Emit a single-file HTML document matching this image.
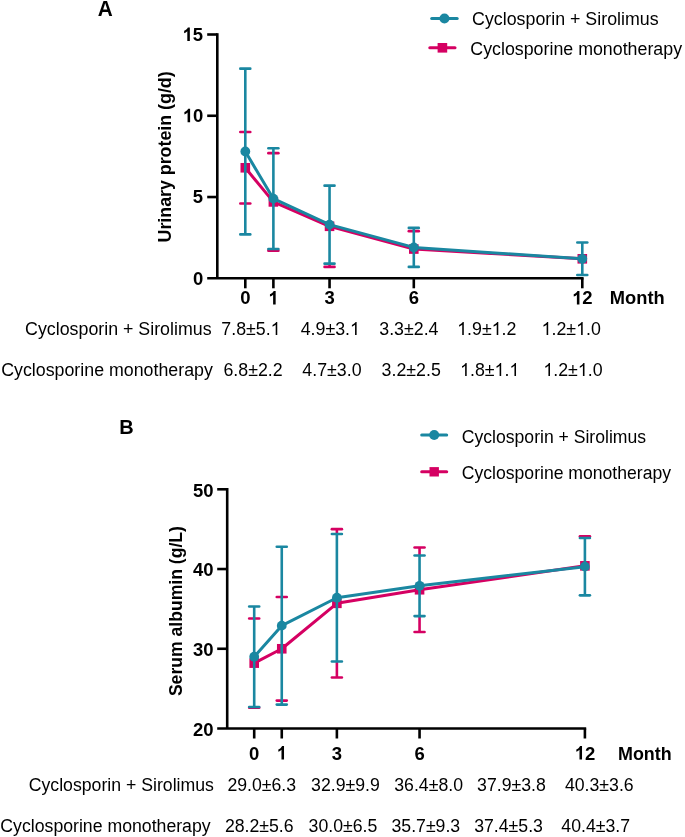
<!DOCTYPE html>
<html><head><meta charset="utf-8"><style>
html,body{margin:0;padding:0;background:#fff;}
svg{display:block;font-family:"Liberation Sans", sans-serif;will-change:transform;}
</style></head><body>
<svg width="685" height="837" viewBox="0 0 685 837">
<rect width="685" height="837" fill="#fff"/>
<line x1="217.30" y1="33.20" x2="217.30" y2="278.30" stroke="#000" stroke-width="2.60" stroke-linecap="butt"/>
<line x1="207.20" y1="278.30" x2="583.60" y2="278.30" stroke="#000" stroke-width="2.60" stroke-linecap="butt"/>
<text id="t0" x="192.97" y="284.78" font-size="18.50" font-weight="bold" fill="#000" transform="translate(0 284.775) scale(1 1.0100) translate(0 -284.775)">0</text>
<line x1="207.20" y1="197.03" x2="217.30" y2="197.03" stroke="#000" stroke-width="2.60" stroke-linecap="butt"/>
<text id="t1" x="192.69" y="203.51" font-size="18.50" font-weight="bold" fill="#000" transform="translate(0 203.508) scale(1 1.0100) translate(0 -203.508)">5</text>
<line x1="207.20" y1="115.77" x2="217.30" y2="115.77" stroke="#000" stroke-width="2.60" stroke-linecap="butt"/>
<text id="t2" x="182.70" y="122.24" font-size="18.50" font-weight="bold" fill="#000" transform="translate(0 122.242) scale(1 1.0100) translate(0 -122.242)"> 0</text>
<path d="M 821 0 L 540 0 L 540 1059 Q 386 915 190 846 L 190 1101 Q 300 1137 429 1238 Q 558 1339 606 1466 L 821 1466 Z" transform="translate(182.700 122.242) scale(0.00903 -0.00921)" fill="#000"/>
<line x1="207.20" y1="34.50" x2="217.30" y2="34.50" stroke="#000" stroke-width="2.60" stroke-linecap="butt"/>
<text id="t3" x="182.43" y="40.98" font-size="18.50" font-weight="bold" fill="#000" transform="translate(0 40.975) scale(1 1.0100) translate(0 -40.975)"> 5</text>
<path d="M 821 0 L 540 0 L 540 1059 Q 386 915 190 846 L 190 1101 Q 300 1137 429 1238 Q 558 1339 606 1466 L 821 1466 Z" transform="translate(182.430 40.975) scale(0.00903 -0.00921)" fill="#000"/>
<line x1="245.30" y1="278.30" x2="245.30" y2="288.30" stroke="#000" stroke-width="2.60" stroke-linecap="butt"/>
<text id="t4" x="240.16" y="304.40" font-size="18.50" font-weight="bold" fill="#000" transform="translate(0 304.400) scale(1 1.0100) translate(0 -304.400)">0</text>
<line x1="273.38" y1="278.30" x2="273.38" y2="288.30" stroke="#000" stroke-width="2.60" stroke-linecap="butt"/>
<text id="t5" x="268.24" y="304.40" font-size="18.50" font-weight="bold" fill="#000" transform="translate(0 304.400) scale(1 1.0100) translate(0 -304.400)"> </text>
<path d="M 821 0 L 540 0 L 540 1059 Q 386 915 190 846 L 190 1101 Q 300 1137 429 1238 Q 558 1339 606 1466 L 821 1466 Z" transform="translate(268.240 304.400) scale(0.00903 -0.00921)" fill="#000"/>
<line x1="329.55" y1="278.30" x2="329.55" y2="288.30" stroke="#000" stroke-width="2.60" stroke-linecap="butt"/>
<text id="t6" x="324.41" y="304.40" font-size="18.50" font-weight="bold" fill="#000" transform="translate(0 304.400) scale(1 1.0100) translate(0 -304.400)">3</text>
<line x1="413.80" y1="278.30" x2="413.80" y2="288.30" stroke="#000" stroke-width="2.60" stroke-linecap="butt"/>
<text id="t7" x="408.66" y="304.40" font-size="18.50" font-weight="bold" fill="#000" transform="translate(0 304.400) scale(1 1.0100) translate(0 -304.400)">6</text>
<line x1="582.30" y1="278.30" x2="582.30" y2="288.30" stroke="#000" stroke-width="2.60" stroke-linecap="butt"/>
<text id="t8" x="572.01" y="304.40" font-size="18.50" font-weight="bold" fill="#000" transform="translate(0 304.400) scale(1 1.0100) translate(0 -304.400)"> 2</text>
<path d="M 821 0 L 540 0 L 540 1059 Q 386 915 190 846 L 190 1101 Q 300 1137 429 1238 Q 558 1339 606 1466 L 821 1466 Z" transform="translate(572.010 304.400) scale(0.00903 -0.00921)" fill="#000"/>
<text id="t9" x="609.81" y="304.40" font-size="18.30" font-weight="bold" fill="#000" transform="translate(0 304.400) scale(1 1.0500) translate(0 -304.400)">Month</text>
<text id="t10" x="-85.66" y="0.00" font-size="17.80" font-weight="bold" fill="#000" transform="translate(171.30 156.80) rotate(-90) scale(1 1.0500)">Urinary protein (g/d)</text>
<text id="t11" x="97.68" y="15.60" font-size="20.80" font-weight="bold" fill="#000" transform="translate(0 15.600) scale(1 1.0500) translate(0 -15.600)">A</text>
<polyline points="245.30,167.78 273.38,201.91 329.55,226.29 413.80,249.04 582.30,258.80" fill="none" stroke="#d50062" stroke-width="3.00" stroke-linejoin="round"/>
<line x1="240.30" y1="132.02" x2="250.30" y2="132.02" stroke="#d50062" stroke-width="2.60" stroke-linecap="round"/>
<line x1="240.30" y1="203.53" x2="250.30" y2="203.53" stroke="#d50062" stroke-width="2.60" stroke-linecap="round"/>
<line x1="273.38" y1="248.54" x2="273.38" y2="250.67" stroke="#d50062" stroke-width="2.60" stroke-linecap="butt"/>
<line x1="268.38" y1="153.15" x2="278.38" y2="153.15" stroke="#d50062" stroke-width="2.60" stroke-linecap="round"/>
<line x1="268.38" y1="250.67" x2="278.38" y2="250.67" stroke="#d50062" stroke-width="2.60" stroke-linecap="round"/>
<line x1="329.55" y1="263.17" x2="329.55" y2="266.92" stroke="#d50062" stroke-width="2.60" stroke-linecap="butt"/>
<line x1="324.55" y1="266.92" x2="334.55" y2="266.92" stroke="#d50062" stroke-width="2.60" stroke-linecap="round"/>
<line x1="408.80" y1="231.17" x2="418.80" y2="231.17" stroke="#d50062" stroke-width="2.60" stroke-linecap="round"/>
<rect x="240.50" y="162.98" width="9.60" height="9.60" fill="#d50062"/>
<rect x="268.58" y="197.11" width="9.60" height="9.60" fill="#d50062"/>
<rect x="324.75" y="221.49" width="9.60" height="9.60" fill="#d50062"/>
<rect x="409.00" y="244.24" width="9.60" height="9.60" fill="#d50062"/>
<rect x="577.50" y="254.00" width="9.60" height="9.60" fill="#d50062"/>
<polyline points="245.30,151.52 273.38,198.66 329.55,224.66 413.80,247.42 582.30,258.80" fill="none" stroke="#1a87a1" stroke-width="3.00" stroke-linejoin="round"/>
<line x1="245.30" y1="68.63" x2="245.30" y2="234.42" stroke="#1a87a1" stroke-width="2.60" stroke-linecap="butt"/>
<line x1="240.30" y1="68.63" x2="250.30" y2="68.63" stroke="#1a87a1" stroke-width="2.60" stroke-linecap="round"/>
<line x1="240.30" y1="234.42" x2="250.30" y2="234.42" stroke="#1a87a1" stroke-width="2.60" stroke-linecap="round"/>
<line x1="273.38" y1="148.27" x2="273.38" y2="249.04" stroke="#1a87a1" stroke-width="2.60" stroke-linecap="butt"/>
<line x1="268.38" y1="148.27" x2="278.38" y2="148.27" stroke="#1a87a1" stroke-width="2.60" stroke-linecap="round"/>
<line x1="268.38" y1="249.04" x2="278.38" y2="249.04" stroke="#1a87a1" stroke-width="2.60" stroke-linecap="round"/>
<line x1="329.55" y1="185.66" x2="329.55" y2="263.67" stroke="#1a87a1" stroke-width="2.60" stroke-linecap="butt"/>
<line x1="324.55" y1="185.66" x2="334.55" y2="185.66" stroke="#1a87a1" stroke-width="2.60" stroke-linecap="round"/>
<line x1="324.55" y1="263.67" x2="334.55" y2="263.67" stroke="#1a87a1" stroke-width="2.60" stroke-linecap="round"/>
<line x1="413.80" y1="227.91" x2="413.80" y2="266.92" stroke="#1a87a1" stroke-width="2.60" stroke-linecap="butt"/>
<line x1="408.80" y1="227.91" x2="418.80" y2="227.91" stroke="#1a87a1" stroke-width="2.60" stroke-linecap="round"/>
<line x1="408.80" y1="266.92" x2="418.80" y2="266.92" stroke="#1a87a1" stroke-width="2.60" stroke-linecap="round"/>
<line x1="582.30" y1="242.54" x2="582.30" y2="275.05" stroke="#1a87a1" stroke-width="2.60" stroke-linecap="butt"/>
<line x1="577.30" y1="242.54" x2="587.30" y2="242.54" stroke="#1a87a1" stroke-width="2.60" stroke-linecap="round"/>
<line x1="577.30" y1="275.05" x2="587.30" y2="275.05" stroke="#1a87a1" stroke-width="2.60" stroke-linecap="round"/>
<circle cx="245.30" cy="151.52" r="4.90" fill="#1a87a1"/>
<circle cx="273.38" cy="198.66" r="4.90" fill="#1a87a1"/>
<circle cx="329.55" cy="224.66" r="4.90" fill="#1a87a1"/>
<circle cx="413.80" cy="247.42" r="4.90" fill="#1a87a1"/>
<circle cx="582.30" cy="258.80" r="4.90" fill="#1a87a1"/>
<line x1="431.70" y1="18.50" x2="457.20" y2="18.50" stroke="#1a87a1" stroke-width="3.00" stroke-linecap="round"/>
<circle cx="444.45" cy="18.50" r="5.00" fill="#1a87a1"/>
<line x1="429.80" y1="47.80" x2="455.00" y2="47.80" stroke="#d50062" stroke-width="3.00" stroke-linecap="round"/>
<rect x="437.60" y="43.00" width="9.60" height="9.60" fill="#d50062"/>
<text id="t12" x="472.11" y="25.10" font-size="17.80" fill="#000" transform="translate(0 25.100) scale(1 1.0500) translate(0 -25.100)">Cyclosporin + Sirolimus</text>
<text id="t13" x="470.31" y="55.30" font-size="17.80" fill="#000" transform="translate(0 55.300) scale(1 1.0500) translate(0 -55.300)">Cyclosporine monotherapy</text>
<text id="t14" x="25.07" y="334.90" font-size="17.80" fill="#000" transform="translate(0 334.900) scale(1 1.0500) translate(0 -334.900)">Cyclosporin + Sirolimus</text>
<text id="t15" x="221.31" y="334.90" font-size="17.80" fill="#000" transform="translate(0 334.900) scale(1 1.0700) translate(0 -334.900)">7.8±5. </text>
<path d="M 763 0 L 583 0 L 583 1147 Q 518 1085 412.5 1023 Q 307 961 223 930 L 223 1104 Q 374 1175 487 1276 Q 600 1377 647 1466 L 763 1466 Z" transform="translate(270.633 334.900) scale(0.00869 -0.00887)" fill="#000"/>
<text id="t16" x="300.66" y="334.90" font-size="17.80" fill="#000" transform="translate(0 334.900) scale(1 1.0700) translate(0 -334.900)">4.9±3. </text>
<path d="M 763 0 L 583 0 L 583 1147 Q 518 1085 412.5 1023 Q 307 961 223 930 L 223 1104 Q 374 1175 487 1276 Q 600 1377 647 1466 L 763 1466 Z" transform="translate(349.983 334.900) scale(0.00869 -0.00887)" fill="#000"/>
<text id="t17" x="379.29" y="334.90" font-size="17.80" fill="#000" transform="translate(0 334.900) scale(1 1.0700) translate(0 -334.900)">3.3±2.4</text>
<text id="t18" x="457.16" y="334.90" font-size="17.80" fill="#000" transform="translate(0 334.900) scale(1 1.0700) translate(0 -334.900)"> .9± .2</text>
<path d="M 763 0 L 583 0 L 583 1147 Q 518 1085 412.5 1023 Q 307 961 223 930 L 223 1104 Q 374 1175 487 1276 Q 600 1377 647 1466 L 763 1466 Z" transform="translate(457.160 334.900) scale(0.00869 -0.00887)" fill="#000"/>
<path d="M 763 0 L 583 0 L 583 1147 Q 518 1085 412.5 1023 Q 307 961 223 930 L 223 1104 Q 374 1175 487 1276 Q 600 1377 647 1466 L 763 1466 Z" transform="translate(491.651 334.900) scale(0.00869 -0.00887)" fill="#000"/>
<text id="t19" x="541.56" y="334.90" font-size="17.80" fill="#000" transform="translate(0 334.900) scale(1 1.0700) translate(0 -334.900)"> .2± .0</text>
<path d="M 763 0 L 583 0 L 583 1147 Q 518 1085 412.5 1023 Q 307 961 223 930 L 223 1104 Q 374 1175 487 1276 Q 600 1377 647 1466 L 763 1466 Z" transform="translate(541.560 334.900) scale(0.00869 -0.00887)" fill="#000"/>
<path d="M 763 0 L 583 0 L 583 1147 Q 518 1085 412.5 1023 Q 307 961 223 930 L 223 1104 Q 374 1175 487 1276 Q 600 1377 647 1466 L 763 1466 Z" transform="translate(576.051 334.900) scale(0.00869 -0.00887)" fill="#000"/>
<text id="t20" x="1.16" y="376.00" font-size="17.80" fill="#000" transform="translate(0 376.000) scale(1 1.0500) translate(0 -376.000)">Cyclosporine monotherapy</text>
<text id="t21" x="223.41" y="376.00" font-size="17.80" fill="#000" transform="translate(0 376.000) scale(1 1.0700) translate(0 -376.000)">6.8±2.2</text>
<text id="t22" x="302.36" y="376.00" font-size="17.80" fill="#000" transform="translate(0 376.000) scale(1 1.0700) translate(0 -376.000)">4.7±3.0</text>
<text id="t23" x="381.59" y="376.00" font-size="17.80" fill="#000" transform="translate(0 376.000) scale(1 1.0700) translate(0 -376.000)">3.2±2.5</text>
<text id="t24" x="460.06" y="376.00" font-size="17.80" fill="#000" transform="translate(0 376.000) scale(1 1.0700) translate(0 -376.000)"> .8± . </text>
<path d="M 763 0 L 583 0 L 583 1147 Q 518 1085 412.5 1023 Q 307 961 223 930 L 223 1104 Q 374 1175 487 1276 Q 600 1377 647 1466 L 763 1466 Z" transform="translate(460.060 376.000) scale(0.00869 -0.00887)" fill="#000"/>
<path d="M 763 0 L 583 0 L 583 1147 Q 518 1085 412.5 1023 Q 307 961 223 930 L 223 1104 Q 374 1175 487 1276 Q 600 1377 647 1466 L 763 1466 Z" transform="translate(494.551 376.000) scale(0.00869 -0.00887)" fill="#000"/>
<path d="M 763 0 L 583 0 L 583 1147 Q 518 1085 412.5 1023 Q 307 961 223 930 L 223 1104 Q 374 1175 487 1276 Q 600 1377 647 1466 L 763 1466 Z" transform="translate(509.383 376.000) scale(0.00869 -0.00887)" fill="#000"/>
<text id="t25" x="543.36" y="376.00" font-size="17.80" fill="#000" transform="translate(0 376.000) scale(1 1.0700) translate(0 -376.000)"> .2± .0</text>
<path d="M 763 0 L 583 0 L 583 1147 Q 518 1085 412.5 1023 Q 307 961 223 930 L 223 1104 Q 374 1175 487 1276 Q 600 1377 647 1466 L 763 1466 Z" transform="translate(543.360 376.000) scale(0.00869 -0.00887)" fill="#000"/>
<path d="M 763 0 L 583 0 L 583 1147 Q 518 1085 412.5 1023 Q 307 961 223 930 L 223 1104 Q 374 1175 487 1276 Q 600 1377 647 1466 L 763 1466 Z" transform="translate(577.851 376.000) scale(0.00869 -0.00887)" fill="#000"/>
<line x1="227.20" y1="488.00" x2="227.20" y2="728.50" stroke="#000" stroke-width="2.60" stroke-linecap="butt"/>
<line x1="217.20" y1="728.50" x2="586.20" y2="728.50" stroke="#000" stroke-width="2.60" stroke-linecap="butt"/>
<text id="t26" x="193.00" y="735.88" font-size="18.50" font-weight="bold" fill="#000" transform="translate(0 735.875) scale(1 1.0100) translate(0 -735.875)">20</text>
<line x1="217.20" y1="648.77" x2="227.20" y2="648.77" stroke="#000" stroke-width="2.60" stroke-linecap="butt"/>
<text id="t27" x="193.00" y="656.14" font-size="18.50" font-weight="bold" fill="#000" transform="translate(0 656.142) scale(1 1.0100) translate(0 -656.142)">30</text>
<line x1="217.20" y1="569.03" x2="227.20" y2="569.03" stroke="#000" stroke-width="2.60" stroke-linecap="butt"/>
<text id="t28" x="193.00" y="576.41" font-size="18.50" font-weight="bold" fill="#000" transform="translate(0 576.408) scale(1 1.0100) translate(0 -576.408)">40</text>
<line x1="217.20" y1="489.30" x2="227.20" y2="489.30" stroke="#000" stroke-width="2.60" stroke-linecap="butt"/>
<text id="t29" x="193.00" y="496.68" font-size="18.50" font-weight="bold" fill="#000" transform="translate(0 496.675) scale(1 1.0100) translate(0 -496.675)">50</text>
<line x1="254.20" y1="728.50" x2="254.20" y2="738.50" stroke="#000" stroke-width="2.60" stroke-linecap="butt"/>
<text id="t30" x="249.06" y="759.60" font-size="18.50" font-weight="bold" fill="#000" transform="translate(0 759.600) scale(1 1.0100) translate(0 -759.600)">0</text>
<line x1="281.76" y1="728.50" x2="281.76" y2="738.50" stroke="#000" stroke-width="2.60" stroke-linecap="butt"/>
<text id="t31" x="276.61" y="759.60" font-size="18.50" font-weight="bold" fill="#000" transform="translate(0 759.600) scale(1 1.0100) translate(0 -759.600)"> </text>
<path d="M 821 0 L 540 0 L 540 1059 Q 386 915 190 846 L 190 1101 Q 300 1137 429 1238 Q 558 1339 606 1466 L 821 1466 Z" transform="translate(276.610 759.600) scale(0.00903 -0.00921)" fill="#000"/>
<line x1="336.88" y1="728.50" x2="336.88" y2="738.50" stroke="#000" stroke-width="2.60" stroke-linecap="butt"/>
<text id="t32" x="331.73" y="759.60" font-size="18.50" font-weight="bold" fill="#000" transform="translate(0 759.600) scale(1 1.0100) translate(0 -759.600)">3</text>
<line x1="419.55" y1="728.50" x2="419.55" y2="738.50" stroke="#000" stroke-width="2.60" stroke-linecap="butt"/>
<text id="t33" x="414.41" y="759.60" font-size="18.50" font-weight="bold" fill="#000" transform="translate(0 759.600) scale(1 1.0100) translate(0 -759.600)">6</text>
<line x1="584.90" y1="728.50" x2="584.90" y2="738.50" stroke="#000" stroke-width="2.60" stroke-linecap="butt"/>
<text id="t34" x="574.61" y="759.60" font-size="18.50" font-weight="bold" fill="#000" transform="translate(0 759.600) scale(1 1.0100) translate(0 -759.600)"> 2</text>
<path d="M 821 0 L 540 0 L 540 1059 Q 386 915 190 846 L 190 1101 Q 300 1137 429 1238 Q 558 1339 606 1466 L 821 1466 Z" transform="translate(574.610 759.600) scale(0.00903 -0.00921)" fill="#000"/>
<text id="t35" x="618.04" y="759.60" font-size="17.90" font-weight="bold" fill="#000" transform="translate(0 759.600) scale(1 1.0500) translate(0 -759.600)">Month</text>
<text id="t36" x="-84.92" y="0.00" font-size="17.60" font-weight="bold" fill="#000" transform="translate(182.00 611.20) rotate(-90) scale(1 1.0500)">Serum albumin (g/L)</text>
<text id="t37" x="119.20" y="434.00" font-size="20.00" font-weight="bold" fill="#000" transform="translate(0 434.000) scale(1 1.0500) translate(0 -434.000)">B</text>
<polyline points="254.20,663.12 281.76,648.77 336.88,603.32 419.55,589.76 584.90,565.84" fill="none" stroke="#d50062" stroke-width="3.00" stroke-linejoin="round"/>
<line x1="254.20" y1="706.47" x2="254.20" y2="707.77" stroke="#d50062" stroke-width="2.60" stroke-linecap="butt"/>
<line x1="249.20" y1="618.47" x2="259.20" y2="618.47" stroke="#d50062" stroke-width="2.60" stroke-linecap="round"/>
<line x1="249.20" y1="707.77" x2="259.20" y2="707.77" stroke="#d50062" stroke-width="2.60" stroke-linecap="round"/>
<line x1="276.76" y1="596.94" x2="286.76" y2="596.94" stroke="#d50062" stroke-width="2.60" stroke-linecap="round"/>
<line x1="276.76" y1="700.59" x2="286.76" y2="700.59" stroke="#d50062" stroke-width="2.60" stroke-linecap="round"/>
<line x1="336.88" y1="529.17" x2="336.88" y2="534.45" stroke="#d50062" stroke-width="2.60" stroke-linecap="butt"/>
<line x1="336.88" y1="661.02" x2="336.88" y2="677.47" stroke="#d50062" stroke-width="2.60" stroke-linecap="butt"/>
<line x1="331.88" y1="529.17" x2="341.88" y2="529.17" stroke="#d50062" stroke-width="2.60" stroke-linecap="round"/>
<line x1="331.88" y1="677.47" x2="341.88" y2="677.47" stroke="#d50062" stroke-width="2.60" stroke-linecap="round"/>
<line x1="419.55" y1="547.51" x2="419.55" y2="555.98" stroke="#d50062" stroke-width="2.60" stroke-linecap="butt"/>
<line x1="419.55" y1="615.58" x2="419.55" y2="632.02" stroke="#d50062" stroke-width="2.60" stroke-linecap="butt"/>
<line x1="414.55" y1="547.51" x2="424.55" y2="547.51" stroke="#d50062" stroke-width="2.60" stroke-linecap="round"/>
<line x1="414.55" y1="632.02" x2="424.55" y2="632.02" stroke="#d50062" stroke-width="2.60" stroke-linecap="round"/>
<line x1="584.90" y1="536.34" x2="584.90" y2="538.44" stroke="#d50062" stroke-width="2.60" stroke-linecap="butt"/>
<line x1="579.90" y1="536.34" x2="589.90" y2="536.34" stroke="#d50062" stroke-width="2.60" stroke-linecap="round"/>
<rect x="249.40" y="658.32" width="9.60" height="9.60" fill="#d50062"/>
<rect x="276.96" y="643.97" width="9.60" height="9.60" fill="#d50062"/>
<rect x="332.07" y="598.52" width="9.60" height="9.60" fill="#d50062"/>
<rect x="414.75" y="584.96" width="9.60" height="9.60" fill="#d50062"/>
<rect x="580.10" y="561.04" width="9.60" height="9.60" fill="#d50062"/>
<polyline points="254.20,656.74 281.76,625.64 336.88,597.74 419.55,585.78 584.90,566.64" fill="none" stroke="#1a87a1" stroke-width="3.00" stroke-linejoin="round"/>
<line x1="254.20" y1="606.51" x2="254.20" y2="706.97" stroke="#1a87a1" stroke-width="2.60" stroke-linecap="butt"/>
<line x1="249.20" y1="606.51" x2="259.20" y2="606.51" stroke="#1a87a1" stroke-width="2.60" stroke-linecap="round"/>
<line x1="249.20" y1="706.97" x2="259.20" y2="706.97" stroke="#1a87a1" stroke-width="2.60" stroke-linecap="round"/>
<line x1="281.76" y1="546.71" x2="281.76" y2="704.58" stroke="#1a87a1" stroke-width="2.60" stroke-linecap="butt"/>
<line x1="276.76" y1="546.71" x2="286.76" y2="546.71" stroke="#1a87a1" stroke-width="2.60" stroke-linecap="round"/>
<line x1="276.76" y1="704.58" x2="286.76" y2="704.58" stroke="#1a87a1" stroke-width="2.60" stroke-linecap="round"/>
<line x1="336.88" y1="533.95" x2="336.88" y2="661.52" stroke="#1a87a1" stroke-width="2.60" stroke-linecap="butt"/>
<line x1="331.88" y1="533.95" x2="341.88" y2="533.95" stroke="#1a87a1" stroke-width="2.60" stroke-linecap="round"/>
<line x1="331.88" y1="661.52" x2="341.88" y2="661.52" stroke="#1a87a1" stroke-width="2.60" stroke-linecap="round"/>
<line x1="419.55" y1="555.48" x2="419.55" y2="616.08" stroke="#1a87a1" stroke-width="2.60" stroke-linecap="butt"/>
<line x1="414.55" y1="555.48" x2="424.55" y2="555.48" stroke="#1a87a1" stroke-width="2.60" stroke-linecap="round"/>
<line x1="414.55" y1="616.08" x2="424.55" y2="616.08" stroke="#1a87a1" stroke-width="2.60" stroke-linecap="round"/>
<line x1="584.90" y1="537.94" x2="584.90" y2="595.35" stroke="#1a87a1" stroke-width="2.60" stroke-linecap="butt"/>
<line x1="579.90" y1="537.94" x2="589.90" y2="537.94" stroke="#1a87a1" stroke-width="2.60" stroke-linecap="round"/>
<line x1="579.90" y1="595.35" x2="589.90" y2="595.35" stroke="#1a87a1" stroke-width="2.60" stroke-linecap="round"/>
<circle cx="254.20" cy="656.74" r="4.90" fill="#1a87a1"/>
<circle cx="281.76" cy="625.64" r="4.90" fill="#1a87a1"/>
<circle cx="336.88" cy="597.74" r="4.90" fill="#1a87a1"/>
<circle cx="419.55" cy="585.78" r="4.90" fill="#1a87a1"/>
<circle cx="584.90" cy="566.64" r="4.90" fill="#1a87a1"/>
<line x1="421.70" y1="435.00" x2="446.70" y2="435.00" stroke="#1a87a1" stroke-width="3.00" stroke-linecap="round"/>
<circle cx="434.20" cy="435.00" r="5.00" fill="#1a87a1"/>
<line x1="421.70" y1="471.80" x2="446.70" y2="471.80" stroke="#d50062" stroke-width="3.00" stroke-linecap="round"/>
<rect x="429.50" y="467.10" width="9.40" height="9.40" fill="#d50062"/>
<text id="t38" x="461.82" y="442.60" font-size="17.60" fill="#000" transform="translate(0 442.600) scale(1 1.0500) translate(0 -442.600)">Cyclosporin + Sirolimus</text>
<text id="t39" x="461.82" y="479.40" font-size="17.60" fill="#000" transform="translate(0 479.400) scale(1 1.0500) translate(0 -479.400)">Cyclosporine monotherapy</text>
<text id="t40" x="28.71" y="791.30" font-size="17.70" fill="#000" transform="translate(0 791.300) scale(1 1.0500) translate(0 -791.300)">Cyclosporin + Sirolimus</text>
<text id="t41" x="227.42" y="791.30" font-size="17.70" fill="#000" transform="translate(0 791.300) scale(1 1.0700) translate(0 -791.300)">29.0±6.3</text>
<text id="t42" x="311.09" y="791.30" font-size="17.70" fill="#000" transform="translate(0 791.300) scale(1 1.0700) translate(0 -791.300)">32.9±9.9</text>
<text id="t43" x="394.29" y="791.30" font-size="17.70" fill="#000" transform="translate(0 791.300) scale(1 1.0700) translate(0 -791.300)">36.4±8.0</text>
<text id="t44" x="477.09" y="791.30" font-size="17.70" fill="#000" transform="translate(0 791.300) scale(1 1.0700) translate(0 -791.300)">37.9±3.8</text>
<text id="t45" x="564.96" y="791.30" font-size="17.70" fill="#000" transform="translate(0 791.300) scale(1 1.0700) translate(0 -791.300)">40.3±3.6</text>
<text id="t46" x="0.35" y="832.00" font-size="17.70" fill="#000" transform="translate(0 832.000) scale(1 1.0500) translate(0 -832.000)">Cyclosporine monotherapy</text>
<text id="t47" x="224.92" y="832.00" font-size="17.70" fill="#000" transform="translate(0 832.000) scale(1 1.0700) translate(0 -832.000)">28.2±5.6</text>
<text id="t48" x="308.59" y="832.00" font-size="17.70" fill="#000" transform="translate(0 832.000) scale(1 1.0700) translate(0 -832.000)">30.0±6.5</text>
<text id="t49" x="391.49" y="832.00" font-size="17.70" fill="#000" transform="translate(0 832.000) scale(1 1.0700) translate(0 -832.000)">35.7±9.3</text>
<text id="t50" x="474.19" y="832.00" font-size="17.70" fill="#000" transform="translate(0 832.000) scale(1 1.0700) translate(0 -832.000)">37.4±5.3</text>
<text id="t51" x="561.36" y="832.00" font-size="17.70" fill="#000" transform="translate(0 832.000) scale(1 1.0700) translate(0 -832.000)">40.4±3.7</text>
</svg></body></html>
